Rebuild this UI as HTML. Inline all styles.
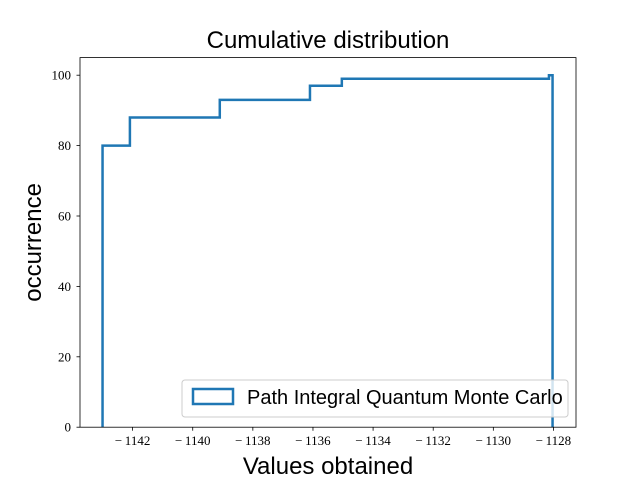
<!DOCTYPE html>
<html><head><meta charset="utf-8"><style>
html,body{margin:0;padding:0;background:#fff;}
svg{display:block;}
</style></head><body>
<svg id="chart" width="640" height="480" xmlns="http://www.w3.org/2000/svg">
<rect width="640" height="480" fill="#fff"/>
</svg>
<script>
const binEdges = [-1143.0, -1142.09, -1139.1, -1136.1, -1135.04, -1128.15, -1128.03];
const cumulativeCounts = [80, 88, 93, 97, 99, 100];
const xTicks = [-1142, -1140, -1138, -1136, -1134, -1132, -1130, -1128];
const yTicks = [0, 20, 40, 60, 80, 100];

const L = 80, R = 576, T = 57.6, B = 427.2;
const xMin = -1143.75, xMax = -1127.25, yMin = 0, yMax = 105;
const sx = v => L + (v - xMin) / (xMax - xMin) * (R - L);
const sy = v => B - (v - yMin) / (yMax - yMin) * (B - T);
const NS = "http://www.w3.org/2000/svg";
const svg = document.getElementById('chart');
function mk(tag, attrs, parent) {
  const e = document.createElementNS(NS, tag);
  for (const k in attrs) e.setAttribute(k, attrs[k]);
  (parent || svg).appendChild(e);
  return e;
}

let d = `M${sx(binEdges[0])},${sy(0)}`;
for (let i = 0; i < cumulativeCounts.length; i++) {
  d += ` L${sx(binEdges[i])},${sy(cumulativeCounts[i])} L${sx(binEdges[i+1])},${sy(cumulativeCounts[i])}`;
}
d += ` L${sx(binEdges[binEdges.length-1])},${sy(0)}`;
const cp = mk('clipPath', {id: 'clip'});
mk('rect', {x: L, y: T, width: R - L, height: B - T}, cp);
const g = mk('g', {'clip-path': 'url(#clip)'});
const series = mk('path', {d: d, fill: 'none', stroke: '#1f77b4', 'stroke-width': 2.5, 'stroke-linejoin': 'miter'}, g);



const frame = mk('rect', {x: L, y: T, width: R - L, height: B - T, fill: 'none', stroke: '#000', 'stroke-width': 0.8});



xTicks.forEach(v => {
  const x = sx(v);
  const t = mk('line', {x1: x, x2: x, y1: B, y2: B + 3.5, stroke: '#000', 'stroke-width': 0.8});
  
  
  const lb = mk('text', {x: x, y: B + 18, 'text-anchor': 'middle', 'font-family': 'Liberation Serif, serif', 'font-size': 13});
  lb.textContent = '\u2212\u2009' + Math.abs(v);
  
  
});
yTicks.forEach(v => {
  const y = sy(v);
  const t = mk('line', {x1: L - 3.5, x2: L, y1: y, y2: y, stroke: '#000', 'stroke-width': 0.8});
  
  
  const lb = mk('text', {x: L - 9, y: y + 4.5, 'text-anchor': 'end', 'font-family': 'Liberation Serif, serif', 'font-size': 13});
  lb.textContent = v;
  
  
});

const title = mk('text', {x: (L + R) / 2, y: 48, 'text-anchor': 'middle', 'font-family': 'Liberation Sans, sans-serif', 'font-size': 24});
title.textContent = 'Cumulative distribution';


const xt = mk('text', {x: (L + R) / 2, y: 474, 'text-anchor': 'middle', 'font-family': 'Liberation Sans, sans-serif', 'font-size': 24});
xt.textContent = 'Values obtained';


const yt = mk('text', {x: 0, y: 0, 'text-anchor': 'middle', 'font-family': 'Liberation Sans, sans-serif', 'font-size': 24, transform: `translate(41,${(T + B) / 2}) rotate(-90)`});
yt.textContent = 'occurrence';



const lg = mk('g', {});


mk('rect', {x: 182, y: 380, width: 386, height: 37, rx: 3, fill: '#fff', 'fill-opacity': 0.8, stroke: '#ccc', 'stroke-width': 1}, lg);
const sw = mk('rect', {x: 193, y: 389, width: 40, height: 15, fill: 'none', stroke: '#1f77b4', 'stroke-width': 2.5}, lg);


const lt = mk('text', {x: 247, y: 404, 'font-family': 'Liberation Sans, sans-serif', 'font-size': 20}, lg);
lt.textContent = 'Path Integral Quantum Monte Carlo';


</script>
</body></html>
